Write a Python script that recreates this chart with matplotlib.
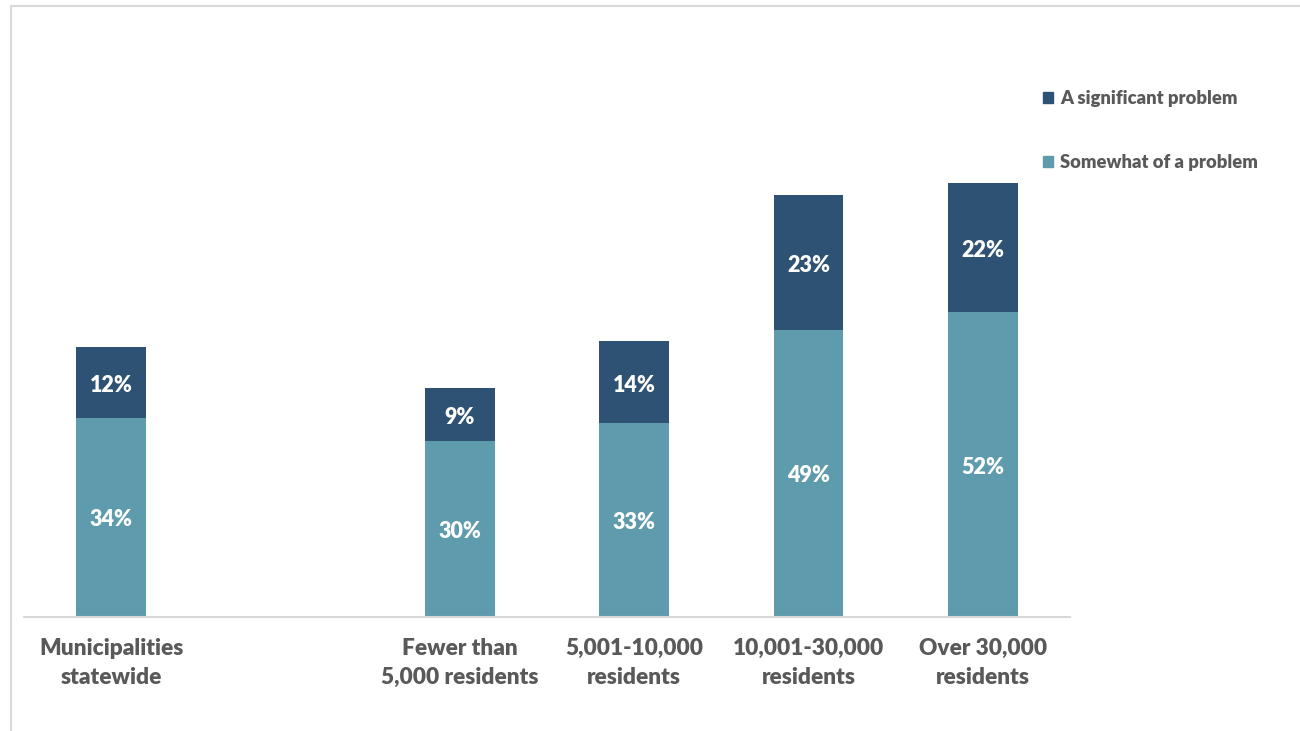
import matplotlib
matplotlib.use("Agg")
import matplotlib.pyplot as plt
from matplotlib.lines import Line2D
from matplotlib.patches import Patch

plt.rcParams['font.family'] = ['Lato', 'DejaVu Sans']

categories = ["Municipalities\nstatewide", "",
              "Fewer than\n5,000 residents", "5,001-10,000\nresidents",
              "10,001-30,000\nresidents", "Over 30,000\nresidents"]
somewhat = [34, None, 30, 33, 49, 52]
significant = [12, None, 9, 14, 23, 22]
series_names = ["Somewhat of a problem", "A significant problem"]

c_light = "#5E9BAD"
c_dark = "#2E5274"
text_grey = "#595959"
W = 800

fig = plt.figure(figsize=(13, 7.31), dpi=100)
ax = fig.add_axes([24 / 1300, 114.3 / 731, 1046 / 1300, 585.7 / 731])

xs = [i for i, v in enumerate(somewhat) if v is not None]
low = [somewhat[i] for i in xs]
high = [significant[i] for i in xs]
width = 0.40

ax.bar(xs, low, width, color=c_light, label=series_names[0], zorder=2)
ax.bar(xs, high, width, bottom=low, color=c_dark, label=series_names[1], zorder=2)

for x, lo, hi in zip(xs, low, high):
    ax.annotate(f"{lo}%", (x, lo / 2), xytext=(0, -2), textcoords="offset points",
                ha="center", va="center", color="white", fontsize=15.5, fontweight=W)
    ax.annotate(f"{hi}%", (x, lo + hi / 2), xytext=(0, -2), textcoords="offset points",
                ha="center", va="center", color="white", fontsize=15.5, fontweight=W)

ax.set_xlim(-0.5, 5.5)
ax.set_ylim(0, 100)
ax.set_yticks([])
ax.set_xticks(xs)
ax.set_xticklabels([categories[i] for i in xs], fontsize=16.3, fontweight=W,
                   color=text_grey, linespacing=1.5)
ax.tick_params(axis="x", length=0, pad=15)
for s in ["top", "right", "left"]:
    ax.spines[s].set_visible(False)
ax.spines["bottom"].set_color("#d9d9d9")
ax.spines["bottom"].set_linewidth(1.5)

handles = [Patch(color=c_dark), Patch(color=c_light)]
leg = fig.legend(handles, [series_names[1], series_names[0]],
                 loc="upper left", bbox_to_anchor=(1036 / 1300, 1 - 83 / 731),
                 frameon=False, fontsize=13.2, handlelength=0.52, handleheight=0.52,
                 handletextpad=0.38, labelspacing=2.55, borderaxespad=0)
for t in leg.get_texts():
    t.set_color(text_grey)
    t.set_fontweight(W)

# light frame along the top and left edges
fig.add_artist(Line2D([11 / 1300, 1], [1 - 6 / 731, 1 - 6 / 731],
                      transform=fig.transFigure, color="#d9d9d9", lw=1.5))
fig.add_artist(Line2D([11 / 1300, 11 / 1300], [0, 1 - 6 / 731],
                      transform=fig.transFigure, color="#d9d9d9", lw=1.5))

fig.savefig("out.png", dpi=100)
